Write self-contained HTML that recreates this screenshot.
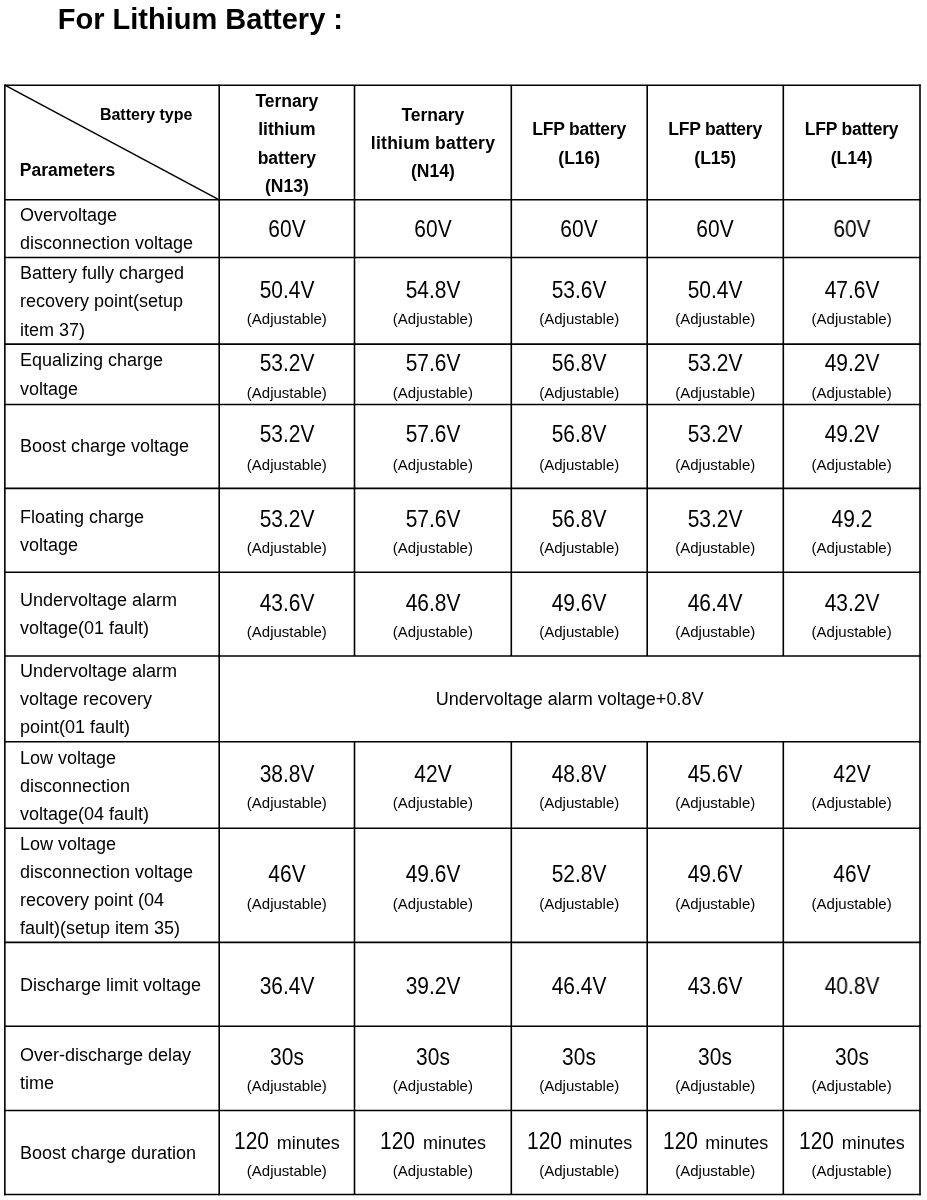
<!DOCTYPE html>
<html><head><meta charset="utf-8"><title>For Lithium Battery</title>
<style>
html,body{margin:0;padding:0;background:#fff;}
body{width:927px;height:1200px;position:relative;overflow:hidden;font-family:"Liberation Sans",sans-serif;color:#000;}
.t{position:absolute;white-space:pre;}
body{-webkit-font-smoothing:antialiased;}
.wrap{position:absolute;left:0;top:0;width:927px;height:1200px;will-change:transform;}
.grid{position:absolute;left:0;top:0;}
</style></head><body>
<svg class="grid" width="927" height="1200" viewBox="0 0 927 1200"><g stroke="#000" stroke-width="1.6" fill="none"><line x1="4.05" y1="85.2" x2="920.80" y2="85.2"/><line x1="4.05" y1="199.8" x2="920.80" y2="199.8"/><line x1="4.05" y1="257.5" x2="920.80" y2="257.5"/><line x1="4.05" y1="344.1" x2="920.80" y2="344.1"/><line x1="4.05" y1="404.5" x2="920.80" y2="404.5"/><line x1="4.05" y1="488.4" x2="920.80" y2="488.4"/><line x1="4.05" y1="572.2" x2="920.80" y2="572.2"/><line x1="4.05" y1="656.0" x2="920.80" y2="656.0"/><line x1="4.05" y1="741.7" x2="920.80" y2="741.7"/><line x1="4.05" y1="828.3" x2="920.80" y2="828.3"/><line x1="4.05" y1="942.4" x2="920.80" y2="942.4"/><line x1="4.05" y1="1026.2" x2="920.80" y2="1026.2"/><line x1="4.05" y1="1110.5" x2="920.80" y2="1110.5"/><line x1="4.05" y1="1194.5" x2="920.80" y2="1194.5"/><line x1="4.85" y1="84.40" x2="4.85" y2="1195.30"/><line x1="219.2" y1="84.40" x2="219.2" y2="1195.30"/><line x1="354.5" y1="85.2" x2="354.5" y2="656.0"/><line x1="354.5" y1="741.7" x2="354.5" y2="1194.5"/><line x1="511.3" y1="85.2" x2="511.3" y2="656.0"/><line x1="511.3" y1="741.7" x2="511.3" y2="1194.5"/><line x1="647.2" y1="85.2" x2="647.2" y2="656.0"/><line x1="647.2" y1="741.7" x2="647.2" y2="1194.5"/><line x1="783.3" y1="85.2" x2="783.3" y2="656.0"/><line x1="783.3" y1="741.7" x2="783.3" y2="1194.5"/><line x1="920.0" y1="84.40" x2="920.0" y2="1195.30"/><line x1="4.85" y1="85.2" x2="219.2" y2="199.8" stroke-width="1.5"/></g></svg>
<div class="wrap">
<div class="t" style="top:5.00px;font-size:29px;line-height:29px;font-weight:700;left:57.80px;">For Lithium Battery :</div>
<div class="t" style="top:107.01px;font-size:16px;line-height:16px;font-weight:700;left:99.90px;">Battery type</div>
<div class="t" style="top:162.04px;font-size:17.5px;line-height:17.5px;font-weight:700;left:19.80px;">Parameters</div>
<div class="t" style="top:93.04px;font-size:17.5px;line-height:17.5px;font-weight:700;left:86.85px;width:400px;text-align:center;">Ternary</div>
<div class="t" style="top:121.04px;font-size:17.5px;line-height:17.5px;font-weight:700;left:86.85px;width:400px;text-align:center;">lithium</div>
<div class="t" style="top:150.04px;font-size:17.5px;line-height:17.5px;font-weight:700;left:86.85px;width:400px;text-align:center;">battery</div>
<div class="t" style="top:178.04px;font-size:17.5px;line-height:17.5px;font-weight:700;left:86.85px;width:400px;text-align:center;">(N13)</div>
<div class="t" style="top:107.04px;font-size:17.5px;line-height:17.5px;font-weight:700;left:232.90px;width:400px;text-align:center;">Ternary</div>
<div class="t" style="top:135.04px;font-size:17.5px;line-height:17.5px;font-weight:700;letter-spacing:0.25px;left:232.90px;width:400px;text-align:center;text-indent:0.25px;">lithium battery</div>
<div class="t" style="top:163.04px;font-size:17.5px;line-height:17.5px;font-weight:700;left:232.90px;width:400px;text-align:center;">(N14)</div>
<div class="t" style="top:121.04px;font-size:17.5px;line-height:17.5px;font-weight:700;letter-spacing:-0.2px;left:379.25px;width:400px;text-align:center;text-indent:-0.2px;">LFP battery</div>
<div class="t" style="top:150.04px;font-size:17.5px;line-height:17.5px;font-weight:700;left:379.25px;width:400px;text-align:center;">(L16)</div>
<div class="t" style="top:121.04px;font-size:17.5px;line-height:17.5px;font-weight:700;letter-spacing:-0.2px;left:515.25px;width:400px;text-align:center;text-indent:-0.2px;">LFP battery</div>
<div class="t" style="top:150.04px;font-size:17.5px;line-height:17.5px;font-weight:700;left:515.25px;width:400px;text-align:center;">(L15)</div>
<div class="t" style="top:121.04px;font-size:17.5px;line-height:17.5px;font-weight:700;letter-spacing:-0.2px;left:651.65px;width:400px;text-align:center;text-indent:-0.2px;">LFP battery</div>
<div class="t" style="top:150.04px;font-size:17.5px;line-height:17.5px;font-weight:700;left:651.65px;width:400px;text-align:center;">(L14)</div>
<div class="t" style="top:206.01px;font-size:18px;line-height:18px;left:20.00px;">Overvoltage</div>
<div class="t" style="top:234.01px;font-size:18px;line-height:18px;left:20.00px;">disconnection voltage</div>
<div class="t" style="top:264.01px;font-size:18px;line-height:18px;left:20.00px;">Battery fully charged</div>
<div class="t" style="top:292.01px;font-size:18px;line-height:18px;left:20.00px;">recovery point(setup</div>
<div class="t" style="top:321.01px;font-size:18px;line-height:18px;left:20.00px;">item 37)</div>
<div class="t" style="top:351.01px;font-size:18px;line-height:18px;left:20.00px;">Equalizing charge</div>
<div class="t" style="top:380.01px;font-size:18px;line-height:18px;left:20.00px;">voltage</div>
<div class="t" style="top:437.01px;font-size:18px;line-height:18px;left:20.00px;">Boost charge voltage</div>
<div class="t" style="top:508.01px;font-size:18px;line-height:18px;left:20.00px;">Floating charge</div>
<div class="t" style="top:536.01px;font-size:18px;line-height:18px;left:20.00px;">voltage</div>
<div class="t" style="top:591.01px;font-size:18px;line-height:18px;left:20.00px;">Undervoltage alarm</div>
<div class="t" style="top:619.01px;font-size:18px;line-height:18px;left:20.00px;">voltage(01 fault)</div>
<div class="t" style="top:662.01px;font-size:18px;line-height:18px;left:20.00px;">Undervoltage alarm</div>
<div class="t" style="top:690.01px;font-size:18px;line-height:18px;left:20.00px;">voltage recovery</div>
<div class="t" style="top:718.01px;font-size:18px;line-height:18px;left:20.00px;">point(01 fault)</div>
<div class="t" style="top:749.01px;font-size:18px;line-height:18px;left:20.00px;">Low voltage</div>
<div class="t" style="top:777.01px;font-size:18px;line-height:18px;left:20.00px;">disconnection</div>
<div class="t" style="top:805.01px;font-size:18px;line-height:18px;left:20.00px;">voltage(04 fault)</div>
<div class="t" style="top:835.01px;font-size:18px;line-height:18px;left:20.00px;">Low voltage</div>
<div class="t" style="top:863.01px;font-size:18px;line-height:18px;left:20.00px;">disconnection voltage</div>
<div class="t" style="top:891.01px;font-size:18px;line-height:18px;left:20.00px;">recovery point (04</div>
<div class="t" style="top:919.01px;font-size:18px;line-height:18px;left:20.00px;">fault)(setup item 35)</div>
<div class="t" style="top:976.01px;font-size:18px;line-height:18px;left:20.00px;">Discharge limit voltage</div>
<div class="t" style="top:1046.01px;font-size:18px;line-height:18px;left:20.00px;">Over-discharge delay</div>
<div class="t" style="top:1074.01px;font-size:18px;line-height:18px;left:20.00px;">time</div>
<div class="t" style="top:1144.01px;font-size:18px;line-height:18px;left:20.00px;">Boost charge duration</div>
<div class="t" style="top:217.98px;font-size:23px;line-height:23px;left:86.85px;width:400px;text-align:center;transform:scaleX(0.91);">60V</div>
<div class="t" style="top:217.98px;font-size:23px;line-height:23px;left:232.90px;width:400px;text-align:center;transform:scaleX(0.91);">60V</div>
<div class="t" style="top:217.98px;font-size:23px;line-height:23px;left:379.25px;width:400px;text-align:center;transform:scaleX(0.91);">60V</div>
<div class="t" style="top:217.98px;font-size:23px;line-height:23px;left:515.25px;width:400px;text-align:center;transform:scaleX(0.91);">60V</div>
<div class="t" style="top:217.98px;font-size:23px;line-height:23px;left:651.65px;width:400px;text-align:center;transform:scaleX(0.91);">60V</div>
<div class="t" style="top:278.98px;font-size:23px;line-height:23px;left:86.85px;width:400px;text-align:center;transform:scaleX(0.91);">50.4V</div>
<div class="t" style="top:310.95px;font-size:15px;line-height:15px;left:86.85px;width:400px;text-align:center;">(Adjustable)</div>
<div class="t" style="top:278.98px;font-size:23px;line-height:23px;left:232.90px;width:400px;text-align:center;transform:scaleX(0.91);">54.8V</div>
<div class="t" style="top:310.95px;font-size:15px;line-height:15px;left:232.90px;width:400px;text-align:center;">(Adjustable)</div>
<div class="t" style="top:278.98px;font-size:23px;line-height:23px;left:379.25px;width:400px;text-align:center;transform:scaleX(0.91);">53.6V</div>
<div class="t" style="top:310.95px;font-size:15px;line-height:15px;left:379.25px;width:400px;text-align:center;">(Adjustable)</div>
<div class="t" style="top:278.98px;font-size:23px;line-height:23px;left:515.25px;width:400px;text-align:center;transform:scaleX(0.91);">50.4V</div>
<div class="t" style="top:310.95px;font-size:15px;line-height:15px;left:515.25px;width:400px;text-align:center;">(Adjustable)</div>
<div class="t" style="top:278.98px;font-size:23px;line-height:23px;left:651.65px;width:400px;text-align:center;transform:scaleX(0.91);">47.6V</div>
<div class="t" style="top:310.95px;font-size:15px;line-height:15px;left:651.65px;width:400px;text-align:center;">(Adjustable)</div>
<div class="t" style="top:351.98px;font-size:23px;line-height:23px;left:86.85px;width:400px;text-align:center;transform:scaleX(0.91);">53.2V</div>
<div class="t" style="top:384.95px;font-size:15px;line-height:15px;left:86.85px;width:400px;text-align:center;">(Adjustable)</div>
<div class="t" style="top:351.98px;font-size:23px;line-height:23px;left:232.90px;width:400px;text-align:center;transform:scaleX(0.91);">57.6V</div>
<div class="t" style="top:384.95px;font-size:15px;line-height:15px;left:232.90px;width:400px;text-align:center;">(Adjustable)</div>
<div class="t" style="top:351.98px;font-size:23px;line-height:23px;left:379.25px;width:400px;text-align:center;transform:scaleX(0.91);">56.8V</div>
<div class="t" style="top:384.95px;font-size:15px;line-height:15px;left:379.25px;width:400px;text-align:center;">(Adjustable)</div>
<div class="t" style="top:351.98px;font-size:23px;line-height:23px;left:515.25px;width:400px;text-align:center;transform:scaleX(0.91);">53.2V</div>
<div class="t" style="top:384.95px;font-size:15px;line-height:15px;left:515.25px;width:400px;text-align:center;">(Adjustable)</div>
<div class="t" style="top:351.98px;font-size:23px;line-height:23px;left:651.65px;width:400px;text-align:center;transform:scaleX(0.91);">49.2V</div>
<div class="t" style="top:384.95px;font-size:15px;line-height:15px;left:651.65px;width:400px;text-align:center;">(Adjustable)</div>
<div class="t" style="top:422.98px;font-size:23px;line-height:23px;left:86.85px;width:400px;text-align:center;transform:scaleX(0.91);">53.2V</div>
<div class="t" style="top:456.95px;font-size:15px;line-height:15px;left:86.85px;width:400px;text-align:center;">(Adjustable)</div>
<div class="t" style="top:422.98px;font-size:23px;line-height:23px;left:232.90px;width:400px;text-align:center;transform:scaleX(0.91);">57.6V</div>
<div class="t" style="top:456.95px;font-size:15px;line-height:15px;left:232.90px;width:400px;text-align:center;">(Adjustable)</div>
<div class="t" style="top:422.98px;font-size:23px;line-height:23px;left:379.25px;width:400px;text-align:center;transform:scaleX(0.91);">56.8V</div>
<div class="t" style="top:456.95px;font-size:15px;line-height:15px;left:379.25px;width:400px;text-align:center;">(Adjustable)</div>
<div class="t" style="top:422.98px;font-size:23px;line-height:23px;left:515.25px;width:400px;text-align:center;transform:scaleX(0.91);">53.2V</div>
<div class="t" style="top:456.95px;font-size:15px;line-height:15px;left:515.25px;width:400px;text-align:center;">(Adjustable)</div>
<div class="t" style="top:422.98px;font-size:23px;line-height:23px;left:651.65px;width:400px;text-align:center;transform:scaleX(0.91);">49.2V</div>
<div class="t" style="top:456.95px;font-size:15px;line-height:15px;left:651.65px;width:400px;text-align:center;">(Adjustable)</div>
<div class="t" style="top:507.98px;font-size:23px;line-height:23px;left:86.85px;width:400px;text-align:center;transform:scaleX(0.91);">53.2V</div>
<div class="t" style="top:539.95px;font-size:15px;line-height:15px;left:86.85px;width:400px;text-align:center;">(Adjustable)</div>
<div class="t" style="top:507.98px;font-size:23px;line-height:23px;left:232.90px;width:400px;text-align:center;transform:scaleX(0.91);">57.6V</div>
<div class="t" style="top:539.95px;font-size:15px;line-height:15px;left:232.90px;width:400px;text-align:center;">(Adjustable)</div>
<div class="t" style="top:507.98px;font-size:23px;line-height:23px;left:379.25px;width:400px;text-align:center;transform:scaleX(0.91);">56.8V</div>
<div class="t" style="top:539.95px;font-size:15px;line-height:15px;left:379.25px;width:400px;text-align:center;">(Adjustable)</div>
<div class="t" style="top:507.98px;font-size:23px;line-height:23px;left:515.25px;width:400px;text-align:center;transform:scaleX(0.91);">53.2V</div>
<div class="t" style="top:539.95px;font-size:15px;line-height:15px;left:515.25px;width:400px;text-align:center;">(Adjustable)</div>
<div class="t" style="top:507.98px;font-size:23px;line-height:23px;left:651.65px;width:400px;text-align:center;transform:scaleX(0.91);">49.2</div>
<div class="t" style="top:539.95px;font-size:15px;line-height:15px;left:651.65px;width:400px;text-align:center;">(Adjustable)</div>
<div class="t" style="top:591.98px;font-size:23px;line-height:23px;left:86.85px;width:400px;text-align:center;transform:scaleX(0.91);">43.6V</div>
<div class="t" style="top:623.95px;font-size:15px;line-height:15px;left:86.85px;width:400px;text-align:center;">(Adjustable)</div>
<div class="t" style="top:591.98px;font-size:23px;line-height:23px;left:232.90px;width:400px;text-align:center;transform:scaleX(0.91);">46.8V</div>
<div class="t" style="top:623.95px;font-size:15px;line-height:15px;left:232.90px;width:400px;text-align:center;">(Adjustable)</div>
<div class="t" style="top:591.98px;font-size:23px;line-height:23px;left:379.25px;width:400px;text-align:center;transform:scaleX(0.91);">49.6V</div>
<div class="t" style="top:623.95px;font-size:15px;line-height:15px;left:379.25px;width:400px;text-align:center;">(Adjustable)</div>
<div class="t" style="top:591.98px;font-size:23px;line-height:23px;left:515.25px;width:400px;text-align:center;transform:scaleX(0.91);">46.4V</div>
<div class="t" style="top:623.95px;font-size:15px;line-height:15px;left:515.25px;width:400px;text-align:center;">(Adjustable)</div>
<div class="t" style="top:591.98px;font-size:23px;line-height:23px;left:651.65px;width:400px;text-align:center;transform:scaleX(0.91);">43.2V</div>
<div class="t" style="top:623.95px;font-size:15px;line-height:15px;left:651.65px;width:400px;text-align:center;">(Adjustable)</div>
<div class="t" style="top:762.98px;font-size:23px;line-height:23px;left:86.85px;width:400px;text-align:center;transform:scaleX(0.91);">38.8V</div>
<div class="t" style="top:794.95px;font-size:15px;line-height:15px;left:86.85px;width:400px;text-align:center;">(Adjustable)</div>
<div class="t" style="top:762.98px;font-size:23px;line-height:23px;left:232.90px;width:400px;text-align:center;transform:scaleX(0.91);">42V</div>
<div class="t" style="top:794.95px;font-size:15px;line-height:15px;left:232.90px;width:400px;text-align:center;">(Adjustable)</div>
<div class="t" style="top:762.98px;font-size:23px;line-height:23px;left:379.25px;width:400px;text-align:center;transform:scaleX(0.91);">48.8V</div>
<div class="t" style="top:794.95px;font-size:15px;line-height:15px;left:379.25px;width:400px;text-align:center;">(Adjustable)</div>
<div class="t" style="top:762.98px;font-size:23px;line-height:23px;left:515.25px;width:400px;text-align:center;transform:scaleX(0.91);">45.6V</div>
<div class="t" style="top:794.95px;font-size:15px;line-height:15px;left:515.25px;width:400px;text-align:center;">(Adjustable)</div>
<div class="t" style="top:762.98px;font-size:23px;line-height:23px;left:651.65px;width:400px;text-align:center;transform:scaleX(0.91);">42V</div>
<div class="t" style="top:794.95px;font-size:15px;line-height:15px;left:651.65px;width:400px;text-align:center;">(Adjustable)</div>
<div class="t" style="top:862.98px;font-size:23px;line-height:23px;left:86.85px;width:400px;text-align:center;transform:scaleX(0.91);">46V</div>
<div class="t" style="top:895.95px;font-size:15px;line-height:15px;left:86.85px;width:400px;text-align:center;">(Adjustable)</div>
<div class="t" style="top:862.98px;font-size:23px;line-height:23px;left:232.90px;width:400px;text-align:center;transform:scaleX(0.91);">49.6V</div>
<div class="t" style="top:895.95px;font-size:15px;line-height:15px;left:232.90px;width:400px;text-align:center;">(Adjustable)</div>
<div class="t" style="top:862.98px;font-size:23px;line-height:23px;left:379.25px;width:400px;text-align:center;transform:scaleX(0.91);">52.8V</div>
<div class="t" style="top:895.95px;font-size:15px;line-height:15px;left:379.25px;width:400px;text-align:center;">(Adjustable)</div>
<div class="t" style="top:862.98px;font-size:23px;line-height:23px;left:515.25px;width:400px;text-align:center;transform:scaleX(0.91);">49.6V</div>
<div class="t" style="top:895.95px;font-size:15px;line-height:15px;left:515.25px;width:400px;text-align:center;">(Adjustable)</div>
<div class="t" style="top:862.98px;font-size:23px;line-height:23px;left:651.65px;width:400px;text-align:center;transform:scaleX(0.91);">46V</div>
<div class="t" style="top:895.95px;font-size:15px;line-height:15px;left:651.65px;width:400px;text-align:center;">(Adjustable)</div>
<div class="t" style="top:974.98px;font-size:23px;line-height:23px;left:86.85px;width:400px;text-align:center;transform:scaleX(0.91);">36.4V</div>
<div class="t" style="top:974.98px;font-size:23px;line-height:23px;left:232.90px;width:400px;text-align:center;transform:scaleX(0.91);">39.2V</div>
<div class="t" style="top:974.98px;font-size:23px;line-height:23px;left:379.25px;width:400px;text-align:center;transform:scaleX(0.91);">46.4V</div>
<div class="t" style="top:974.98px;font-size:23px;line-height:23px;left:515.25px;width:400px;text-align:center;transform:scaleX(0.91);">43.6V</div>
<div class="t" style="top:974.98px;font-size:23px;line-height:23px;left:651.65px;width:400px;text-align:center;transform:scaleX(0.91);">40.8V</div>
<div class="t" style="top:1045.98px;font-size:23px;line-height:23px;left:86.85px;width:400px;text-align:center;transform:scaleX(0.91);">30s</div>
<div class="t" style="top:1077.95px;font-size:15px;line-height:15px;left:86.85px;width:400px;text-align:center;">(Adjustable)</div>
<div class="t" style="top:1045.98px;font-size:23px;line-height:23px;left:232.90px;width:400px;text-align:center;transform:scaleX(0.91);">30s</div>
<div class="t" style="top:1077.95px;font-size:15px;line-height:15px;left:232.90px;width:400px;text-align:center;">(Adjustable)</div>
<div class="t" style="top:1045.98px;font-size:23px;line-height:23px;left:379.25px;width:400px;text-align:center;transform:scaleX(0.91);">30s</div>
<div class="t" style="top:1077.95px;font-size:15px;line-height:15px;left:379.25px;width:400px;text-align:center;">(Adjustable)</div>
<div class="t" style="top:1045.98px;font-size:23px;line-height:23px;left:515.25px;width:400px;text-align:center;transform:scaleX(0.91);">30s</div>
<div class="t" style="top:1077.95px;font-size:15px;line-height:15px;left:515.25px;width:400px;text-align:center;">(Adjustable)</div>
<div class="t" style="top:1045.98px;font-size:23px;line-height:23px;left:651.65px;width:400px;text-align:center;transform:scaleX(0.91);">30s</div>
<div class="t" style="top:1077.95px;font-size:15px;line-height:15px;left:651.65px;width:400px;text-align:center;">(Adjustable)</div>
<div class="t" style="top:1129.98px;font-size:23px;line-height:23px;left:234.25px;transform:scaleX(0.91);transform-origin:0 0;">120</div>
<div class="t" style="top:1134.01px;font-size:18px;line-height:18px;left:276.85px;">minutes</div>
<div class="t" style="top:1162.95px;font-size:15px;line-height:15px;left:86.85px;width:400px;text-align:center;">(Adjustable)</div>
<div class="t" style="top:1129.98px;font-size:23px;line-height:23px;left:380.30px;transform:scaleX(0.91);transform-origin:0 0;">120</div>
<div class="t" style="top:1134.01px;font-size:18px;line-height:18px;left:422.90px;">minutes</div>
<div class="t" style="top:1162.95px;font-size:15px;line-height:15px;left:232.90px;width:400px;text-align:center;">(Adjustable)</div>
<div class="t" style="top:1129.98px;font-size:23px;line-height:23px;left:526.65px;transform:scaleX(0.91);transform-origin:0 0;">120</div>
<div class="t" style="top:1134.01px;font-size:18px;line-height:18px;left:569.25px;">minutes</div>
<div class="t" style="top:1162.95px;font-size:15px;line-height:15px;left:379.25px;width:400px;text-align:center;">(Adjustable)</div>
<div class="t" style="top:1129.98px;font-size:23px;line-height:23px;left:662.65px;transform:scaleX(0.91);transform-origin:0 0;">120</div>
<div class="t" style="top:1134.01px;font-size:18px;line-height:18px;left:705.25px;">minutes</div>
<div class="t" style="top:1162.95px;font-size:15px;line-height:15px;left:515.25px;width:400px;text-align:center;">(Adjustable)</div>
<div class="t" style="top:1129.98px;font-size:23px;line-height:23px;left:799.05px;transform:scaleX(0.91);transform-origin:0 0;">120</div>
<div class="t" style="top:1134.01px;font-size:18px;line-height:18px;left:841.65px;">minutes</div>
<div class="t" style="top:1162.95px;font-size:15px;line-height:15px;left:651.65px;width:400px;text-align:center;">(Adjustable)</div>
<div class="t" style="top:690.01px;font-size:18px;line-height:18px;left:369.60px;width:400px;text-align:center;">Undervoltage alarm voltage+0.8V</div>
</div>
</body></html>
